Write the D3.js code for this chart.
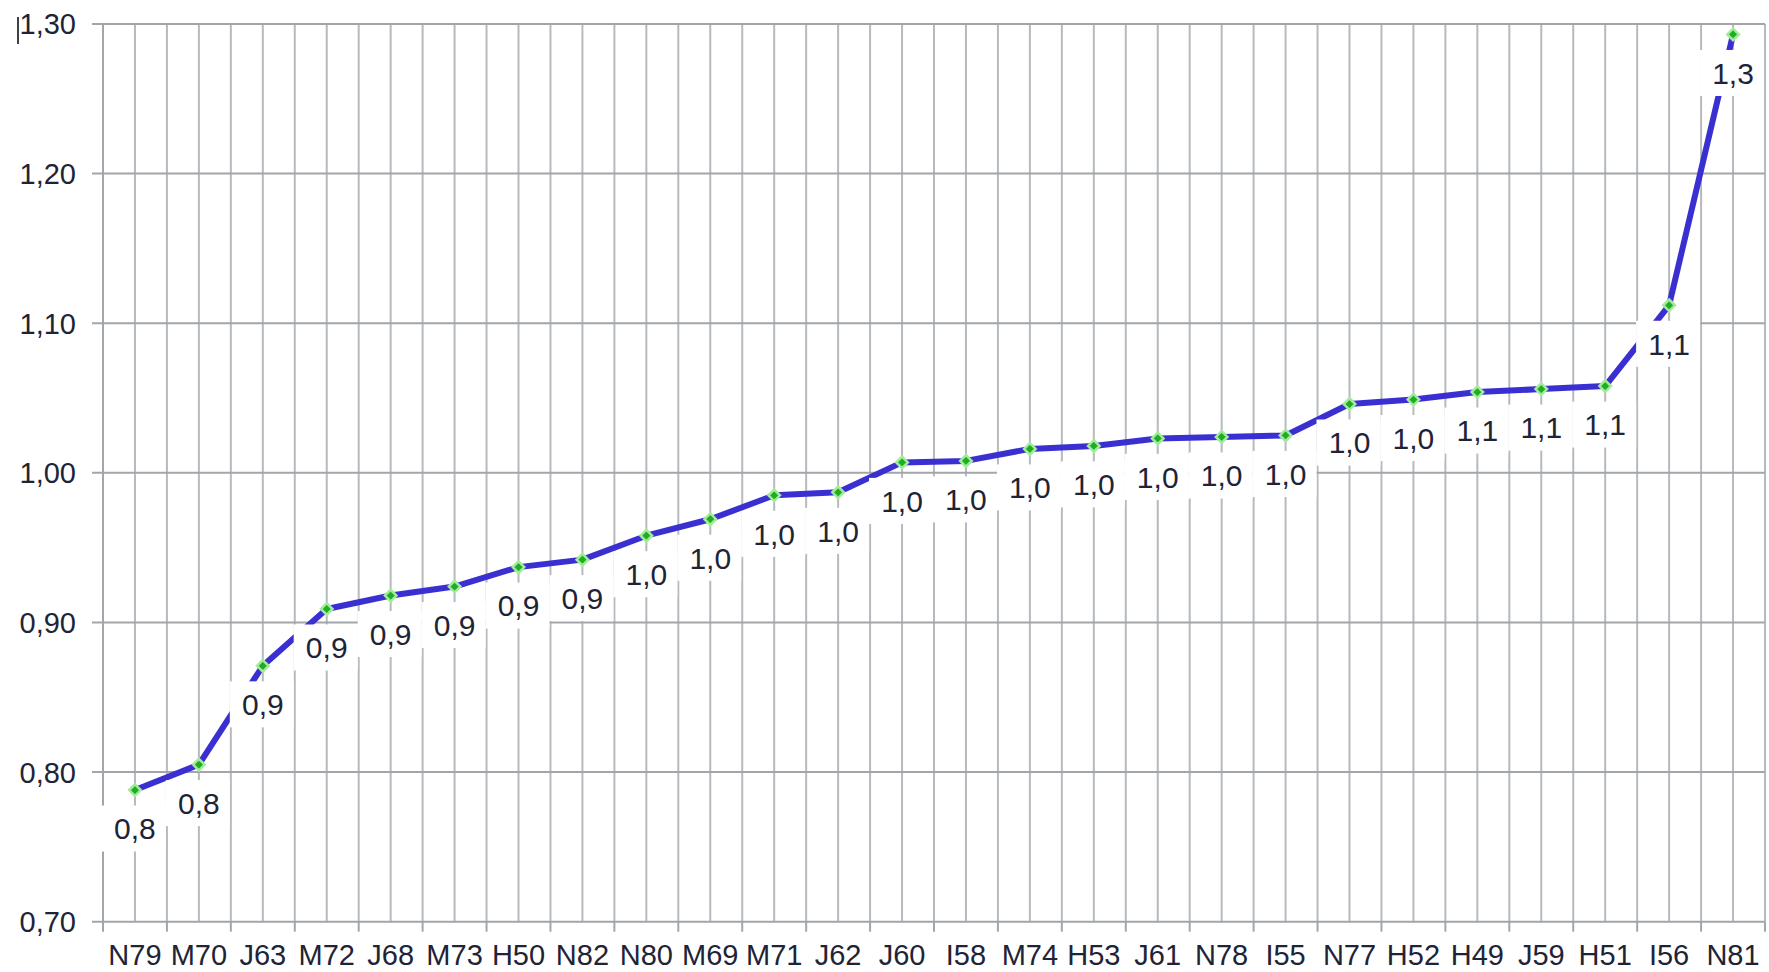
<!DOCTYPE html>
<html>
<head>
<meta charset="utf-8">
<script src="https://cdn.jsdelivr.net/npm/d3@7"></script>
<style>
  body { margin: 0; background: #fff; }
  svg { display: block; font-family: "Liberation Sans", Arial, sans-serif; }
</style>
</head>
<body>
<div id="chart"></div>
<script>
// categories and values
var categories = ["N79","M70","J63","M72","J68","M73","H50","N82","N80","M69","M71","J62","J60",
                  "I58","M74","H53","J61","N78","I55","N77","H52","H49","J59","H51","I56","N81"];
var values = [0.788,0.805,0.871,0.909,0.918,0.924,0.937,0.942,0.958,0.969,0.985,0.987,1.007,
              1.008,1.016,1.018,1.023,1.024,1.025,1.046,1.049,1.054,1.056,1.058,1.112,1.293];
var yTicks = [0.70,0.80,0.90,1.00,1.10,1.20,1.30];

var width = 1769, height = 972;
// plot area (window.top is taken, so own names)
var plotL = 103, plotR = 1765, plotT = 24, plotB = 921.7;

var svg = d3.select("#chart")
  .append("svg")
    .attr("width", width)
    .attr("height", height);

var x = d3.scaleBand().domain(categories).range([plotL, plotR]);
var y = d3.scaleLinear().domain([0.7, 1.3]).range([plotB, plotT]);
var comma = function(f) { return function(v) { return d3.format(f)(v).replace(".", ","); }; };

// vertical grid: category boundaries and centres
var vlines = [];
categories.forEach(function(c) { vlines.push(x(c)); vlines.push(x(c) + x.bandwidth() / 2); });
vlines.push(plotR);
svg.append("g").selectAll("line")
  .data(vlines)
  .enter().append("line")
    .attr("x1", d => d).attr("x2", d => d)
    .attr("y1", plotT).attr("y2", plotB)
    .style("stroke", "#b6babe")
    .style("stroke-width", 2);

// horizontal grid
svg.append("g").selectAll("line")
  .data(yTicks)
  .enter().append("line")
    .attr("x1", plotL - 11).attr("x2", plotR)
    .attr("y1", d => y(d)).attr("y2", d => y(d))
    .style("stroke", "#a2a6aa")
    .style("stroke-width", 2);

svg.append("line")
  .attr("x1", plotL).attr("x2", plotL)
  .attr("y1", plotT).attr("y2", plotB)
  .style("stroke", "#a2a6aa").style("stroke-width", 2);

// bottom ticks
svg.append("g").selectAll("line")
  .data(categories.map(c => x(c)).concat([plotR]))
  .enter().append("line")
    .attr("x1", d => d).attr("x2", d => d)
    .attr("y1", plotB).attr("y2", plotB + 10)
    .style("stroke", "#a2a6aa")
    .style("stroke-width", 2);

// y labels
svg.append("g").selectAll("text")
  .data(yTicks)
  .enter().append("text")
    .attr("x", 76)
    .attr("y", d => y(d))
    .attr("dy", "0.36em")
    .attr("text-anchor", "end")
    .style("font-size", "29px")
    .style("fill", "#1e2436")
    .text(comma(".2f"));

// x labels
svg.append("g").selectAll("text")
  .data(categories)
  .enter().append("text")
    .attr("x", d => x(d) + x.bandwidth() / 2)
    .attr("y", 965)
    .attr("text-anchor", "middle")
    .style("font-size", "29px")
    .style("fill", "#1e2436")
    .text(d => d);

// small mark at top left
svg.append("line")
  .attr("x1", 18).attr("x2", 18).attr("y1", 17).attr("y2", 44)
  .style("stroke", "#111").style("stroke-width", 1.6);

var pts = categories.map((c, i) => ({ name: c, v: values[i], cx: x(c) + x.bandwidth() / 2, cy: y(values[i]) }));

svg.append("path")
  .datum(pts)
  .attr("d", d3.line().x(d => d.cx).y(d => d.cy))
  .style("fill", "none")
  .style("stroke", "#3a30d2")
  .style("stroke-width", 6)
  .style("stroke-linejoin", "round");

svg.append("g").selectAll("path")
  .data(pts)
  .enter().append("path")
    .attr("d", d3.symbol(d3.symbolDiamond2, 85))
    .attr("transform", d => "translate(" + d.cx + "," + d.cy + ")")
    .style("fill", "#1fae22")
    .style("stroke", "#a3ea9c")
    .style("stroke-width", 2.5);

// data labels with white boxes
var lab = svg.append("g").selectAll("g")
  .data(pts)
  .enter().append("g")
    .attr("transform", d => "translate(" + d.cx + "," + (d.cy + 38.5) + ")");

lab.append("rect")
  .attr("x", -33).attr("y", -23)
  .attr("width", 64).attr("height", 46)
  .style("fill", "#fff");

lab.append("text")
  .attr("text-anchor", "middle")
  .attr("dy", "0.36em")
  .style("font-size", "30px")
  .style("fill", "#1e2436")
  .text(d => comma(".1f")(d.v));
</script>
</body>
</html>
